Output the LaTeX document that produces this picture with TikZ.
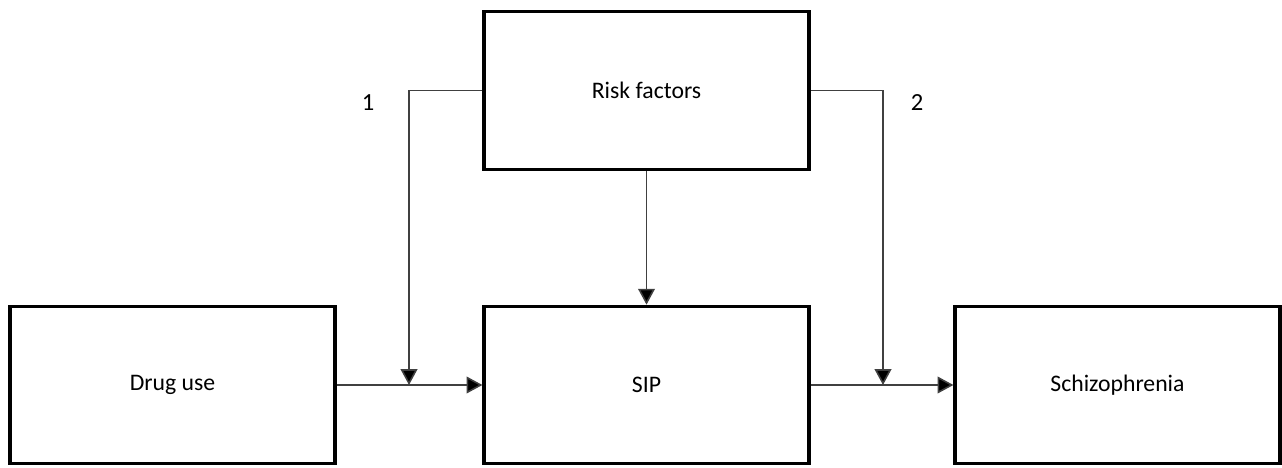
\documentclass[tikz,border=0pt]{standalone}
\usepackage{fontspec}
\setmainfont{Carlito}
\usepackage{tikz}
\usetikzlibrary{arrows.meta,positioning}
\tikzset{
  factor/.style={draw=black, line width=1.8pt, minimum width=6.5cm, minimum height=3.15cm, font=\fontsize{13.5}{16}\selectfont},
  link/.style={draw=black!75, line width=0.9pt, -{Triangle[width=9.5pt,length=9pt,fill=black]}},
  pathnum/.style={font=\fontsize{14}{16}\selectfont}
}
\begin{document}
\begin{tikzpicture}
  \useasboundingbox (0,0) rectangle (25.64,-9.36);
  \node[factor] (risk) at (12.93,-1.81) {Risk factors};
  \node[factor] (drug) at (3.45,-7.7) {Drug use};
  \node[factor] (sip) at (12.93,-7.7) {SIP};
  \node[factor] (schizo) at (22.35,-7.7) {Schizophrenia};
  % moderation points on the two paths
  \coordinate (j1) at (8.18,-7.7);
  \coordinate (j2) at (17.66,-7.7);
  \draw[link] (drug) -- (sip);
  \draw[link] (sip) -- (schizo);
  \draw[link] (risk) -- (sip);
  \draw[link] (risk.west) -| (j1);
  \draw[link] (risk.east) -| (j2);
  \node[pathnum] (n1) at (7.36,-2.06) {1};
  \node[pathnum] (n2) at (18.34,-2.06) {2};
\end{tikzpicture}
\end{document}
